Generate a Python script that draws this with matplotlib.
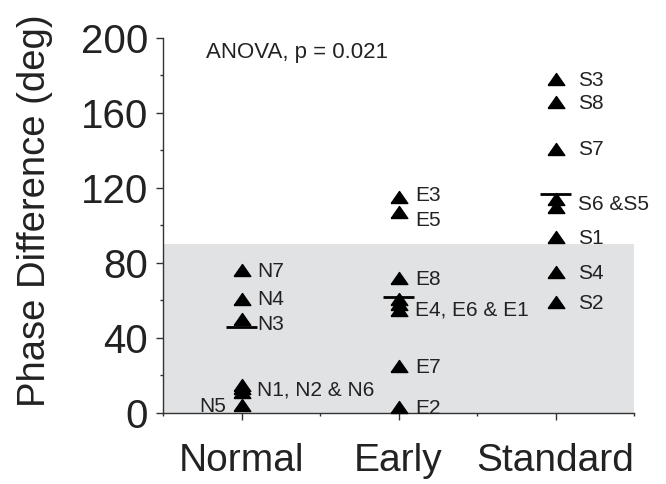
import matplotlib.pyplot as plt
import numpy as np
from matplotlib.ticker import MultipleLocator, FixedLocator

# data
groups = ['Normal', 'Early', 'Standard']
normal = [76, 61, 50, 15, 13, 11, 4]
early = [115, 107, 72, 61, 58, 55, 25, 3]
standard = [178, 166, 141, 114, 110, 94, 75, 59]
means = [46, 62, 117]
# label text and which points it belongs to (index into group list), side
normal_labels = [('N7', [0], 'r'), ('N4', [1], 'r'), ('N3', [2], 'r'),
                 ('N1, N2 & N6', [3, 4, 5], 'r'), ('N5', [6], 'l')]
early_labels = [('E3', [0], 'r'), ('E5', [1], 'r'), ('E8', [2], 'r'),
                ('E4, E6 & E1', [3, 4, 5], 'r'), ('E7', [6], 'r'), ('E2', [7], 'r')]
standard_labels = [('S3', [0], 'r'), ('S8', [1], 'r'), ('S7', [2], 'r'),
                   ('S6 &S5', [3, 4], 'r'), ('S1', [5], 'r'), ('S4', [6], 'r'),
                   ('S2', [7], 'r')]
shade_top = 90
anova_text = 'ANOVA, p = 0.021'

font = ['Liberation Sans', 'DejaVu Sans']
txt_col = '#222222'
# small vertical nudges (points) so labels don't collide
nudge = {'E5': -6, 'E3': 1, 'N3': -4, 'E4, E6 & E1': -4}

fig = plt.figure(figsize=(6.66, 4.84), dpi=100)
ax = fig.add_axes([0.245, 0.147, 0.707, 0.7745])

ax.axhspan(0, shade_top, color='#e1e2e4', zorder=0, lw=0)

tri = [(-1, -0.72), (1, -0.72), (0, 0.72), (-1, -0.72)]
data = [normal, early, standard]
labels = [normal_labels, early_labels, standard_labels]
offs = [11, 12, 16]
for i, (vals, labs) in enumerate(zip(data, labels)):
    x = i + 1
    ax.plot([x] * len(vals), vals, ls='none', marker=tri, ms=12,
            color='black', clip_on=False, zorder=3)
    ax.plot([x - 0.1, x + 0.1], [means[i]] * 2, color='black', lw=2,
            zorder=4, solid_capstyle='butt')
    for text, idx, side in labs:
        yv = np.mean([vals[k] for k in idx])
        dy = nudge.get(text, -1)
        if side == 'r':
            ax.annotate(text, (x, yv), xytext=(offs[i], dy),
                        textcoords='offset points', ha='left', va='center',
                        fontsize=15, family=font, color=txt_col)
        else:
            ax.annotate(text, (x, yv), xytext=(-11, -1),
                        textcoords='offset points', ha='right', va='center',
                        fontsize=15, family=font, color=txt_col)

ax.text(0.77, 192, anova_text, fontsize=16, family=font,
        color=txt_col, va='center', ha='left')

ax.set_xlim(0.5, 3.5)
ax.set_ylim(0, 200)
ax.set_xticks([1, 2, 3])
ax.set_xticklabels(groups)
ax.xaxis.set_minor_locator(FixedLocator([0.5, 1.5, 2.5, 3.5]))
ax.set_yticks(np.arange(0, 201, 40))
ax.yaxis.set_minor_locator(MultipleLocator(20))

for s in ['top', 'right']:
    ax.spines[s].set_visible(False)
for s in ['left', 'bottom']:
    ax.spines[s].set_color('#333333')
    ax.spines[s].set_linewidth(1)

ax.tick_params(which='major', length=5, width=1, color='#333333')
ax.tick_params(which='minor', length=2.5, width=1, color='#333333')
ax.tick_params(axis='y', labelsize=29, pad=6)
ax.tick_params(axis='x', labelsize=28, pad=17)
for lab in ax.get_xticklabels() + ax.get_yticklabels():
    lab.set_family(font)
    lab.set_color(txt_col)

ax.set_ylabel('Phase Difference (deg)', fontsize=27.5, family=font,
              color=txt_col)
ax.yaxis.set_label_coords(-0.235, 0.54)

fig.savefig('out.png', dpi=100)
